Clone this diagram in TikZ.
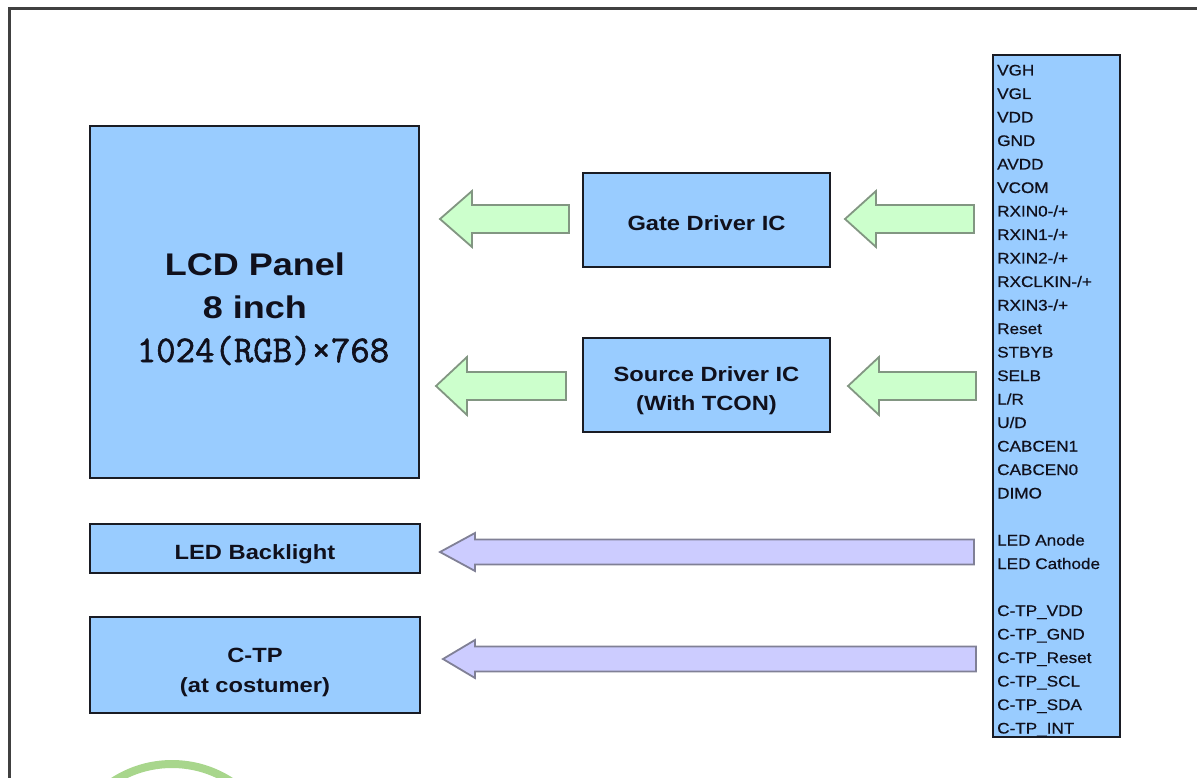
\documentclass[tikz,border=0pt]{standalone}
\usepackage{fontspec}
\setmainfont{Liberation Sans}[FakeStretch=1.15]
\newfontfamily\pinfont{Liberation Sans}[FakeStretch=1.12, FakeBold=0.6]
\newfontfamily\monobold{Latin Modern Mono}[FakeBold=1.6]
\definecolor{boxblue}{RGB}{153,204,255}
\definecolor{boxline}{RGB}{26,28,36}
\definecolor{gfill}{RGB}{204,255,204}
\definecolor{gline}{RGB}{130,150,130}
\definecolor{pfill}{RGB}{204,204,255}
\definecolor{pline}{RGB}{128,128,150}
\definecolor{ring}{RGB}{168,214,140}
\definecolor{frame}{RGB}{64,64,64}
\definecolor{txt}{RGB}{16,16,28}
\newcommand\blkarrow[7]{\draw[#1] (#2,#5) -- (#3,#5-#6) -- (#3,#5-#7) -- (#4,#5-#7) -- (#4,#5+#7) -- (#3,#5+#7) -- (#3,#5+#6) -- cycle;}
\begin{document}
\begin{tikzpicture}[x=1pt,y=-1pt,
  box/.style={draw=boxline, fill=boxblue, line width=2.5pt, inner sep=0pt},
  garrow/.style={draw=gline, fill=gfill, line width=1.8pt, line join=miter},
  parrow/.style={draw=pline, fill=pfill, line width=1.8pt, line join=miter},
  lbl/.style={text=txt, inner sep=0pt, anchor=base},
  midlbl/.style={lbl, font=\bfseries\fontsize{20.6}{24}\selectfont},
  pinlbl/.style={text=txt, inner sep=0pt, anchor=base west, font=\pinfont\fontsize{15.3}{18}\selectfont}]
\useasboundingbox (0,0) rectangle (1197,778);
\fill[white] (0,0) rectangle (1197,778);
% outer frame
\draw[frame, line width=3pt] (9,778) -- (9,9) -- (1197,9);
% green ring at the bottom
\begin{scope}
\clip (0,0) rectangle (1197,778);
\draw[ring, line width=8pt] (172,872) circle (108);
\end{scope}
% boxes
\node[box, minimum width=329pt, minimum height=352pt] (lcd) at (254.5,302) {};
\node[box, minimum width=247pt, minimum height=94pt] (gate) at (706.5,220) {};
\node[box, minimum width=247pt, minimum height=94pt] (source) at (706.5,385) {};
\node[box, minimum width=330pt, minimum height=49pt] (led) at (255,548.5) {};
\node[box, minimum width=330pt, minimum height=96pt] (ctp) at (255,665) {};
\node[box, minimum width=127pt, minimum height=682pt] (pins) at (1056.5,396) {};
% labels
\node[lbl, font=\bfseries\fontsize{31.3}{36}\selectfont] (lcd1) at (255,276) {LCD Panel};
\node[lbl, font=\bfseries\fontsize{31.3}{36}\selectfont] (lcd2) at (255,318) {8 inch};
\node[lbl, font=\monobold\fontsize{37.7}{40}\selectfont] (lcd3) at (263,362) {1024(RGB)×768};
\node[midlbl] (gate1) at (706.5,231) {Gate Driver IC};
\node[midlbl] (src1) at (706.5,381) {Source Driver IC};
\node[midlbl] (src2) at (706.5,410) {(With TCON)};
\node[midlbl] (led1) at (255,559) {LED Backlight};
\node[midlbl] (ctp1) at (255,662) {C-TP};
\node[midlbl] (ctp2) at (255,692) {(at costumer)};
% pin list
\foreach \t [count=\i from 0] in {VGH,VGL,VDD,GND,AVDD,VCOM,RXIN0-/+,RXIN1-/+,RXIN2-/+,RXCLKIN-/+,RXIN3-/+,Reset,STBYB,SELB,L/R,U/D,CABCEN1,CABCEN0,DIMO,{},LED Anode,LED Cathode,{},C-TP\_VDD,C-TP\_GND,C-TP\_Reset,C-TP\_SCL,C-TP\_SDA,C-TP\_INT}
  \node[pinlbl] (p\i) at (997,75.5+23.5*\i) {\t};
% block arrows
\blkarrow{garrow}{440}{472}{569}{219}{28}{14}
\blkarrow{garrow}{845}{876}{974}{219}{28}{14}
\blkarrow{garrow}{436}{467}{566}{386}{29}{14}
\blkarrow{garrow}{848}{879}{976}{386}{29}{14}
\blkarrow{parrow}{440}{475}{974}{552}{19}{12.5}
\blkarrow{parrow}{443}{475}{976}{659}{19}{12.5}
\end{tikzpicture}
\end{document}
